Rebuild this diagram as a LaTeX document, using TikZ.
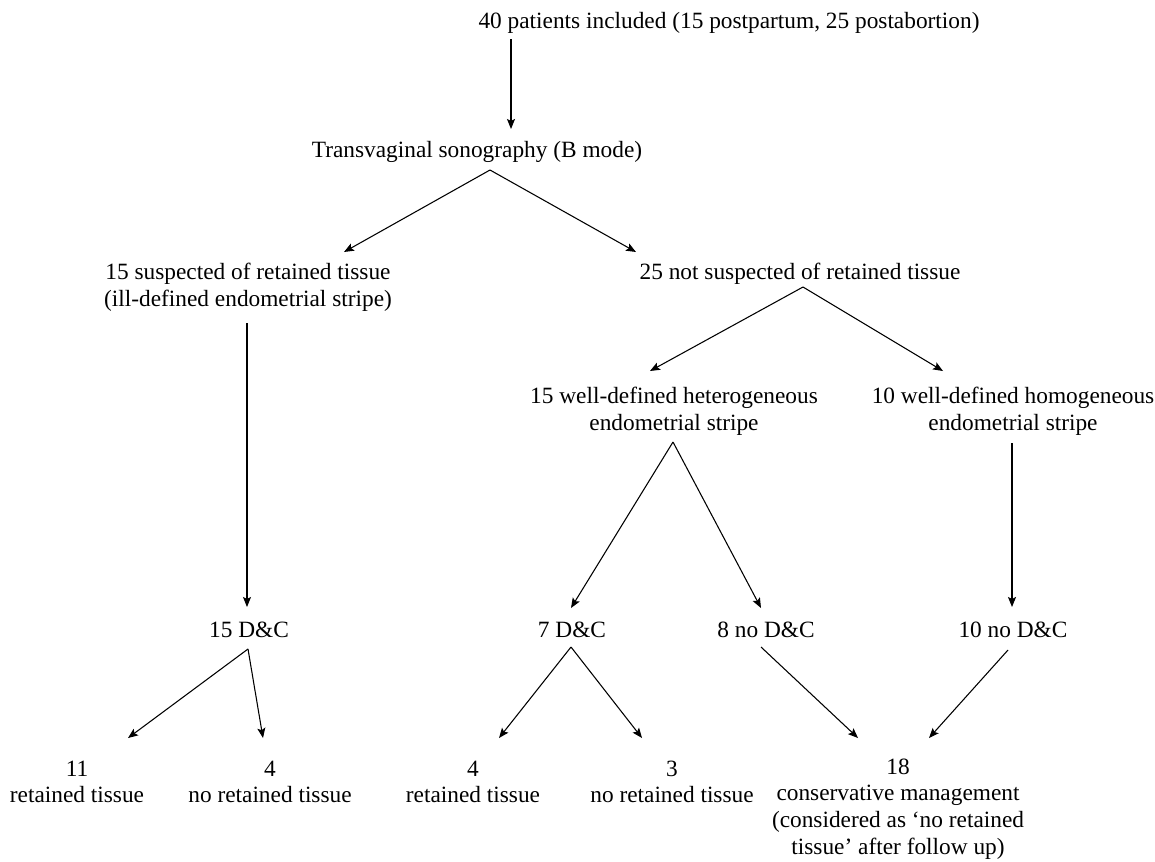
\documentclass[tikz,border=0pt]{standalone}
\usepackage{fontspec}
\setmainfont{Liberation Serif}
\usetikzlibrary{arrows.meta}
\begin{document}
\begin{tikzpicture}[x=0.75pt,y=-0.75pt,
  lbl/.style={inner sep=0pt,align=center,font=\fontsize{17.5}{20}\selectfont},
  arr/.style={line width=0.8pt,-{Stealth[length=7.5pt,width=6pt,inset=1.5pt]}}]
\useasboundingbox (0,0) rectangle (1155,861);
% nodes
\node[lbl] (top) at (729,23) {40 patients included (15 postpartum, 25 postabortion)};
\node[lbl] (trans) at (477,152) {Transvaginal sonography (B mode)};
\node[lbl] (susp) at (248,287) {15 suspected of retained tissue\\(ill-defined endometrial stripe)};
\node[lbl] (notsusp) at (800,274) {25 not suspected of retained tissue};
\node[lbl] (hetero) at (674,411) {15 well-defined heterogeneous\\endometrial stripe};
\node[lbl] (homo) at (1013,411) {10 well-defined homogeneous\\endometrial stripe};
\node[lbl] (dc15) at (249,630) {15 D\&C};
\node[lbl] (dc7) at (572,630) {7 D\&C};
\node[lbl] (nodc8) at (766,630) {8 no D\&C};
\node[lbl] (nodc10) at (1013,630) {10 no D\&C};
\node[lbl] (r11) at (77,782) {11\\retained tissue};
\node[lbl] (n4) at (270,782) {4\\no retained tissue};
\node[lbl] (r4) at (473,782) {4\\retained tissue};
\node[lbl] (n3) at (672,782) {3\\no retained tissue};
\node[lbl] (c18) at (898,809) {18\\conservative management\\(considered as ‘no retained\\tissue’ after follow up)};
% connectors
\draw[arr] ([shift={(-218,16)}]top.center) -- ([shift={(34,-23)}]trans.center);
\draw[arr] ([shift={(13,18)}]trans.center) -- ([shift={(96,-35)}]susp.center);
\draw[arr] ([shift={(13,18)}]trans.center) -- ([shift={(-164,-22)}]notsusp.center);
\draw[arr] ([shift={(-1,36)}]susp.center) -- ([shift={(-2,-23)}]dc15.center);
\draw[arr] ([shift={(3,13)}]notsusp.center) -- ([shift={(-24,-40)}]hetero.center);
\draw[arr] ([shift={(3,13)}]notsusp.center) -- ([shift={(-70,-40)}]homo.center);
\draw[arr] ([shift={(-1,31)}]hetero.center) -- ([shift={(-1,-22)}]dc7.center);
\draw[arr] ([shift={(-1,31)}]hetero.center) -- ([shift={(-5,-22)}]nodc8.center);
\draw[arr] ([shift={(-1,32)}]homo.center) -- ([shift={(-1,-23)}]nodc10.center);
\draw[arr] ([shift={(-1,19)}]dc15.center) -- ([shift={(51,-44)}]r11.center);
\draw[arr] ([shift={(-1,19)}]dc15.center) -- ([shift={(-7,-44)}]n4.center);
\draw[arr] ([shift={(-1,17)}]dc7.center) -- ([shift={(26,-44)}]r4.center);
\draw[arr] ([shift={(-1,17)}]dc7.center) -- ([shift={(-30,-44)}]n3.center);
\draw[arr] ([shift={(-5,17)}]nodc8.center) -- ([shift={(-40,-71)}]c18.center);
\draw[arr] ([shift={(-5,20)}]nodc10.center) -- ([shift={(31,-71)}]c18.center);
\end{tikzpicture}
\end{document}
